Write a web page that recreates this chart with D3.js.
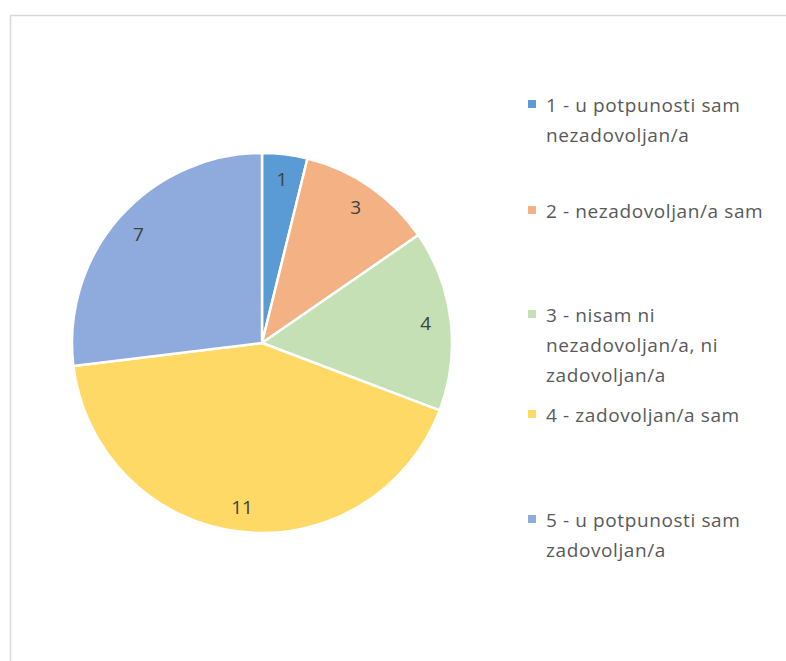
<!DOCTYPE html>
<html>
<head>
<meta charset="utf-8">
<script src="https://cdn.jsdelivr.net/npm/d3@7"></script>
<style>
  body { margin: 0; background: #fff; }
  text { font-family: "Open Sans", sans-serif; }
</style>
</head>
<body>
<div id="chart"></div>
<script>
// data
var categories = ["1", "2", "3", "4", "5"];
var values = [1, 3, 4, 11, 7];
var legendLines = [
	["1 - u potpunosti sam", "nezadovoljan/a"],
	["2 - nezadovoljan/a sam"],
	["3 - nisam ni", "nezadovoljan/a, ni", "zadovoljan/a"],
	["4 - zadovoljan/a sam"],
	["5 - u potpunosti sam", "zadovoljan/a"]
];
var colors = ["#5B9BD5", "#F4B183", "#C5E0B4", "#FFD966", "#8FAADC"];

// layout
var W = 786, H = 661;
var cx = 262, cy = 343, R = 190, labelR = 165;
var legendX = 528, legendBase = [112, 218, 322, 422, 527], lineH = 30;

var svg = d3.select("#chart").append("svg")
		.attr("width", W)
		.attr("height", H);

// chart frame
svg.append("rect")
	.attr("x", 10.5)
	.attr("y", 15.5)
	.attr("width", 900)
	.attr("height", 900)
	.style("fill", "none")
	.style("stroke", "#d9d9d9")
	.style("stroke-width", 1.5);

var color = d3.scaleOrdinal().domain(categories).range(colors);

var pie = d3.pie().sort(null).value(function(d) { return d.v });
var slices = pie(categories.map(function(c, i) { return {c: c, v: values[i]} }));

var arc = d3.arc().innerRadius(0).outerRadius(R);
var labelArc = d3.arc().innerRadius(labelR).outerRadius(labelR);

var g = svg.append("g").attr("transform", "translate(" + cx + "," + cy + ")");

g.selectAll("path")
	.data(slices)
	.enter().append("path")
		.attr("d", arc)
		.style("fill", function(d) { return color(d.data.c) })
		.style("stroke", "#fff")
		.style("stroke-width", 2.5)
		.style("stroke-linejoin", "round");

g.selectAll("text.lbl")
	.data(slices)
	.enter().append("text")
		.attr("class", "lbl")
		.attr("text-anchor", "middle")
		.attr("dominant-baseline", "central")
		.attr("x", function(d) { return labelArc.centroid(d)[0] })
		.attr("y", function(d) { return labelArc.centroid(d)[1] })
		.style("font-size", "19px")
		.style("fill", "#404040")
		.text(function(d) { return d.data.v });

// legend
var leg = svg.selectAll("g.leg")
	.data(categories)
	.enter().append("g")
		.attr("class", "leg")
		.attr("transform", function(d, i) { return "translate(" + legendX + "," + legendBase[i] + ")" });

leg.append("rect")
	.attr("x", 0)
	.attr("y", -12)
	.attr("width", 8)
	.attr("height", 8)
	.style("fill", function(d) { return color(d) });

leg.append("text")
	.attr("x", 18)
	.attr("y", 0)
	.style("font-size", "19px")
	.style("letter-spacing", "0.6px")
	.style("fill", "#595959")
	.selectAll("tspan")
	.data(function(d, i) { return legendLines[i] })
	.enter().append("tspan")
		.attr("x", 18)
		.attr("dy", function(d, j) { return j == 0 ? 0 : lineH })
		.text(function(d) { return d });
</script>
</body>
</html>
